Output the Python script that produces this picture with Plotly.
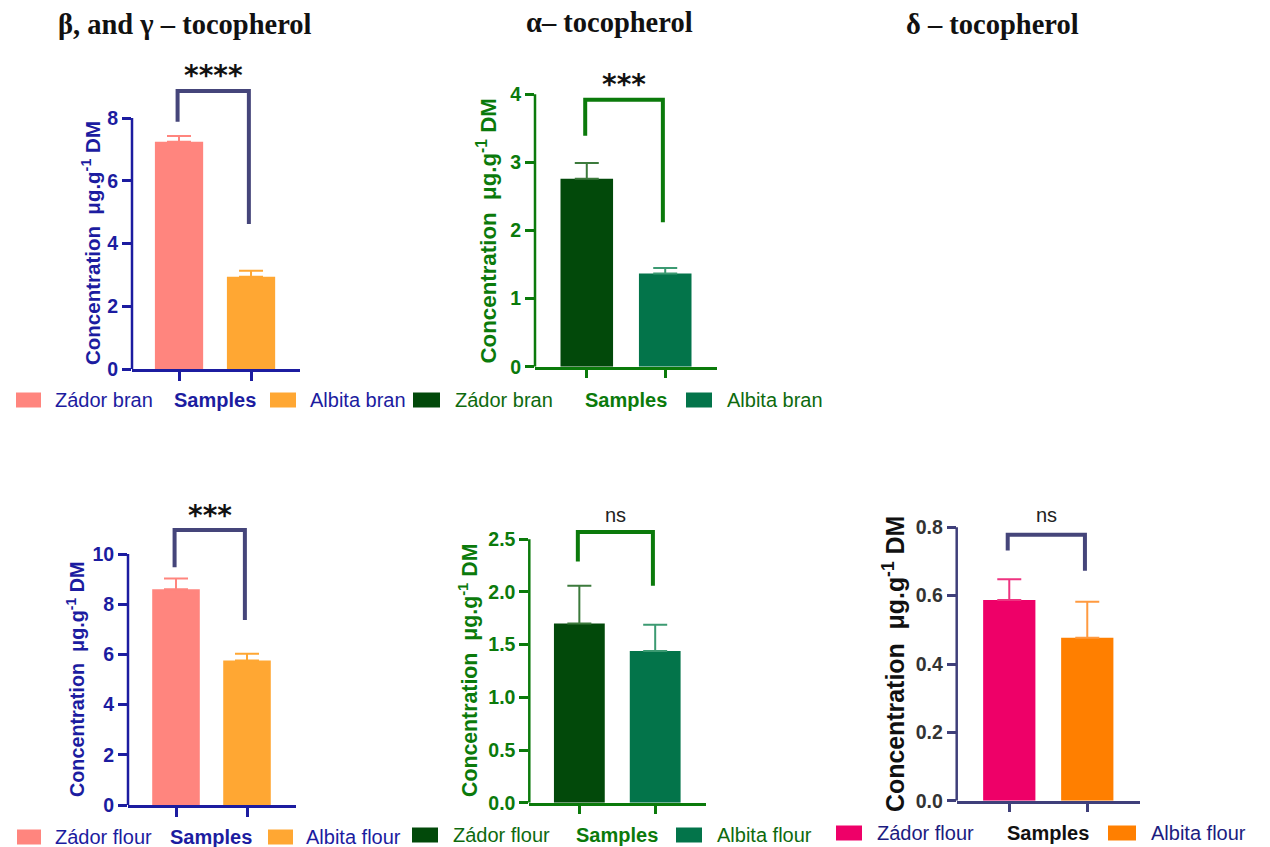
import plotly.graph_objects as go

W, H = 1270, 847

# ---------------- data ----------------
bran_categories = ["Zádor bran", "Albita bran"]
flour_categories = ["Zádor flour", "Albita flour"]

bg_bran_values = [7.24, 2.94]
bg_bran_errors = [0.19, 0.19]
a_bran_values = [2.76, 1.37]
a_bran_errors = [0.23, 0.08]

bg_flour_values = [8.60, 5.76]
bg_flour_errors = [0.42, 0.27]
a_flour_values = [1.70, 1.44]
a_flour_errors = [0.36, 0.25]
d_flour_values = [0.587, 0.477]
d_flour_errors = [0.061, 0.105]

# significance brackets: (label, top, left leg end, right leg end, label y)
bg_bran_sig = ("****", 8.86, 7.88, 4.62, 9.35)
a_bran_sig = ("***", 3.92, 3.39, 2.12, 4.14)
bg_flour_sig = ("***", 10.96, 9.47, 7.37, 11.55)
a_flour_sig = ("ns", 2.57, 2.29, 2.06, 2.73)
d_flour_sig = ("ns", 0.778, 0.732, 0.673, 0.835)

y_ticks_bg_bran = [0, 2, 4, 6, 8]
y_ticks_a_bran = [0, 1, 2, 3, 4]
y_ticks_bg_flour = [0, 2, 4, 6, 8, 10]
y_ticks_a_flour = [0, 0.5, 1.0, 1.5, 2.0, 2.5]
y_ticks_d_flour = [0, 0.2, 0.4, 0.6, 0.8]

titles = ["β, and γ – tocopherol", "α– tocopherol", "δ – tocopherol"]
y_title = "Concentration  μg.g<sup>-1</sup> DM"
x_title = "Samples"

NAVY = "#1C1CA0"
SLATE = "#45457A"
GREEN = "#0B7A0B"
SANS = "Arial, Liberation Sans, sans-serif"

fig = go.Figure()


def px_x(p):
    return p / W


def px_y(p):
    return 1 - p / H


panels = [
    dict(idx=1, cats=bran_categories, vals=bg_bran_values, errs=bg_bran_errors, sig=bg_bran_sig,
         ticks=y_ticks_bg_bran, tickfmt="d", ext=10.0,
         xdom=[132, 300], y0px=369, ytoppx=118, xr=[-0.653, 1.68],
         colors=["#FF857E", "#FFA733"], ecolors=["#FF857E", "#FFA733"],
         axis=NAVY, tickc=NAVY, titlec=NAVY, titlesize=20.5, titlex=90.5, bracket=SLATE,
         leg=dict(y=400, sw=[(16, 41), (270, 296)], tx=[53, 308], sam=215,
                  txtc=NAVY, samc=NAVY)),
    dict(idx=2, cats=bran_categories, vals=a_bran_values, errs=a_bran_errors, sig=a_bran_sig,
         ticks=y_ticks_a_bran, tickfmt="d", ext=4.45,
         xdom=[535, 717], y0px=366.7, ytoppx=94.3, xr=[-0.66, 1.66],
         colors=["#02490A", "#03744A"], ecolors=["#3C7A3C", "#3C9A72"],
         axis=GREEN, tickc=GREEN, titlec=GREEN, titlesize=22.3, titlex=487, bracket=GREEN,
         leg=dict(y=400, sw=[(413, 440), (686, 712)], tx=[453, 725], sam=626,
                  txtc="#0E6A0E", samc=GREEN)),
    dict(idx=3, cats=flour_categories, vals=bg_flour_values, errs=bg_flour_errors, sig=bg_flour_sig,
         ticks=y_ticks_bg_flour, tickfmt="d", ext=12.2,
         xdom=[128, 296], y0px=805, ytoppx=554, xr=[-0.676, 1.69],
         colors=["#FF857E", "#FFA733"], ecolors=["#FF857E", "#FFA733"],
         axis=NAVY, tickc=NAVY, titlec=NAVY, titlesize=19.8, titlex=75.5, bracket=SLATE,
         leg=dict(y=837, sw=[(17, 41), (268, 293)], tx=[53, 304], sam=211,
                  txtc=NAVY, samc=NAVY)),
    dict(idx=4, cats=flour_categories, vals=a_flour_values, errs=a_flour_errors, sig=a_flour_sig,
         ticks=y_ticks_a_flour, tickfmt=".1f", ext=2.9,
         xdom=[529.3, 706], y0px=802.7, ytoppx=539.3, xr=[-0.66, 1.67],
         colors=["#02490A", "#03744A"], ecolors=["#3C7A3C", "#3C9A72"],
         axis=GREEN, tickc=GREEN, titlec=GREEN, titlesize=21.3, titlex=469, bracket=GREEN,
         leg=dict(y=835, sw=[(412, 438), (676, 702)], tx=[451, 715], sam=617,
                  txtc="#0E6A0E", samc=GREEN)),
    dict(idx=5, cats=flour_categories, vals=d_flour_values, errs=d_flour_errors, sig=d_flour_sig,
         ticks=y_ticks_d_flour, tickfmt=".1f", ext=0.9,
         xdom=[956.7, 1140], y0px=800.7, ytoppx=527.3, xr=[-0.674, 1.676],
         colors=["#EE0068", "#FF7F00"], ecolors=["#EE3380", "#FF9A40"],
         axis="#3F3F7A", tickc="#333333", titlec="#111111", titlesize=24.9, titlex=893, bracket=SLATE,
         leg=dict(y=833, sw=[(836, 862), (1108, 1136)], tx=[875, 1149], sam=1048,
                  txtc="#1C1C80", samc="#111111")),
]

annotations = []
shapes = []

for p in panels:
    i = p["idx"]
    xa = "x" if i == 1 else f"x{i}"
    ya = "y" if i == 1 else f"y{i}"
    ymax = p["ticks"][-1]
    xpos = list(range(len(p["cats"])))
    for k, (cat, v, e) in enumerate(zip(p["cats"], p["vals"], p["errs"])):
        fig.add_trace(go.Bar(
            x=[xpos[k]], y=[v], name=cat, width=0.67,
            marker=dict(color=p["colors"][k], line=dict(width=0)),
            error_y=dict(type="data", array=[e], arrayminus=[0], symmetric=False,
                         color=p["ecolors"][k], thickness=2, width=12),
            xaxis=xa, yaxis=ya, showlegend=False,
        ))
    label, top, l_end, r_end, ly = p["sig"]
    fig.add_trace(go.Scatter(
        x=[-0.02, -0.02, 0.97, 0.97], y=[l_end, top, top, r_end], mode="lines",
        line=dict(color=p["bracket"], width=4),
        xaxis=xa, yaxis=ya, showlegend=False, hoverinfo="skip",
    ))
    if label == "ns":
        tfont = dict(family=SANS, size=20, color="#222222")
    else:
        tfont = dict(family="DejaVu Sans, sans-serif", size=28, color="#111111", weight="bold")
    annotations.append(dict(text=label, xref=xa, yref=ya, x=0.48, y=ly, showarrow=False,
                            xanchor="center", yanchor="middle", font=tfont))

    # domain from pixel calibration of the reference
    ppu = (p["y0px"] - p["ytoppx"]) / ymax
    top_px = p["y0px"] - p["ext"] * ppu
    axis_key = "xaxis" if i == 1 else f"xaxis{i}"
    yaxis_key = "yaxis" if i == 1 else f"yaxis{i}"
    fig.layout[axis_key] = dict(
        domain=[px_x(p["xdom"][0]), px_x(p["xdom"][1])],
        anchor=ya, range=p["xr"], tickvals=xpos, showticklabels=False,
        ticks="outside", ticklen=9, tickwidth=2.5,
        tickcolor=p["axis"], showline=True, linecolor=p["axis"], linewidth=2.5,
        showgrid=False, zeroline=False, fixedrange=True, automargin=False,
    )
    fig.layout[yaxis_key] = dict(
        domain=[px_y(p["y0px"]), px_y(top_px)],
        anchor=xa, range=[0, p["ext"]], tickvals=p["ticks"], tickformat=p["tickfmt"],
        ticks="outside", ticklen=9, tickwidth=2.5, tickcolor=p["axis"],
        showline=False, showgrid=False, zeroline=False, automargin=False,
        tickfont=dict(family=SANS, size=19.5, color=p["tickc"], weight="bold"),
    )
    # visible y axis line only up to the last tick
    shapes.append(dict(type="line", xref=f"{xa} domain", yref=ya, x0=0, x1=0, y0=0, y1=ymax,
                       line=dict(color=p["axis"], width=2.5)))
    # y axis title
    annotations.append(dict(text=y_title, xref="paper", yref=ya, x=px_x(p["titlex"]), y=ymax / 2,
                            textangle=-90, showarrow=False, xanchor="center", yanchor="middle",
                            font=dict(family=SANS, size=p["titlesize"], color=p["titlec"],
                                      weight="bold")))

    # pseudo legend row under the panel
    lg = p["leg"]
    for k, cat in enumerate(p["cats"]):
        x0, x1 = lg["sw"][k]
        shapes.append(dict(type="rect", xref="paper", yref="paper",
                           x0=px_x(x0), x1=px_x(x1), y0=px_y(lg["y"] + 7.5), y1=px_y(lg["y"] - 7.5),
                           fillcolor=p["colors"][k], line=dict(width=0)))
        annotations.append(dict(text=cat, xref="paper", yref="paper", x=px_x(lg["tx"][k]),
                                y=px_y(lg["y"]), xanchor="left", yanchor="middle", showarrow=False,
                                font=dict(family=SANS, size=20, color=lg["txtc"])))
    annotations.append(dict(text=f"<b>{x_title}</b>", xref="paper", yref="paper", x=px_x(lg["sam"]),
                            y=px_y(lg["y"]), xanchor="center", yanchor="middle", showarrow=False,
                            font=dict(family=SANS, size=20, color=lg["samc"])))

for t, cx, cy in zip(titles, [184.5, 609, 992], [25, 22, 25]):
    annotations.append(dict(text=f"<b>{t}</b>", xref="paper", yref="paper", x=px_x(cx), y=px_y(cy),
                            xanchor="center", yanchor="middle", showarrow=False,
                            font=dict(family="Times New Roman, Liberation Serif, serif", size=28.5,
                                      color="#111111")))

fig.update_layout(
    width=W, height=H, margin=dict(l=0, r=0, t=0, b=0, autoexpand=False),
    paper_bgcolor="white", plot_bgcolor="white",
    annotations=annotations, shapes=shapes, showlegend=False,
)

fig.write_html("out.html", config={"displayModeBar": False},
               post_script="document.body.style.margin='0';")
